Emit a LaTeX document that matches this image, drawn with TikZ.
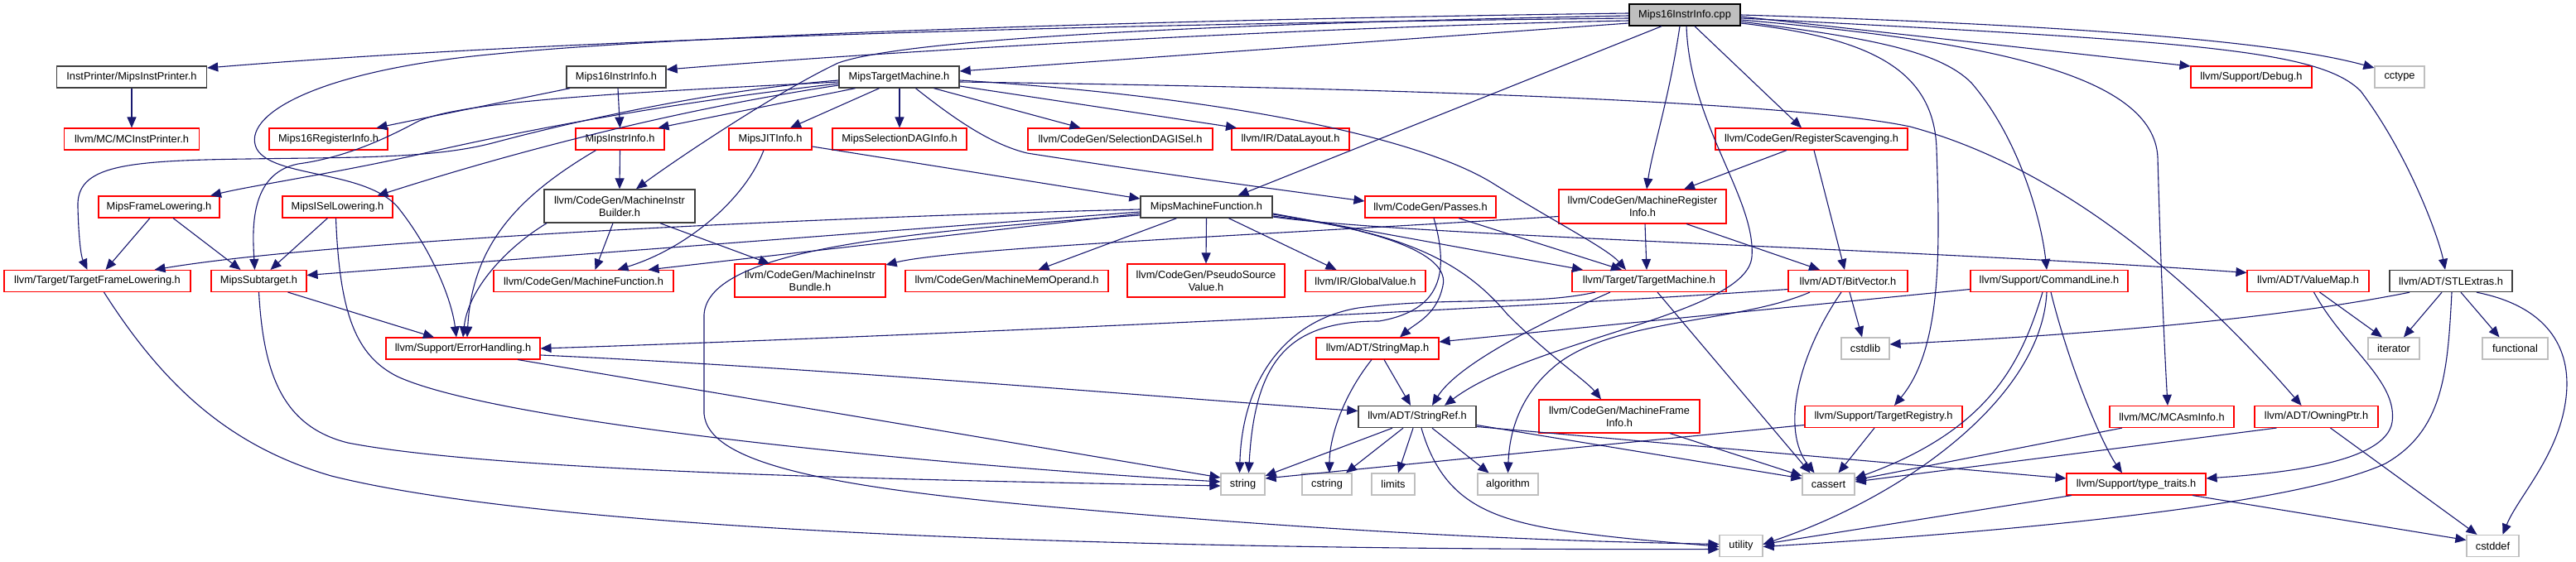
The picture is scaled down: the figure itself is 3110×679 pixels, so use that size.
\documentclass[tikz,border=0pt]{standalone}
\usepackage{fontspec}
\newfontfamily\nf{Liberation Sans}
\usetikzlibrary{arrows.meta}
\definecolor{edgec}{HTML}{191970}
\definecolor{redc}{HTML}{FF0000}
\definecolor{grayc}{HTML}{BFBFBF}
\definecolor{blkc}{HTML}{404040}
\begin{document}
\begin{tikzpicture}[x=1pt,y=-1pt,
  base/.style={draw, rectangle, inner sep=0pt, minimum height=26pt, line width=1.4pt, align=center,
     font={\nf\fontsize{12.8pt}{15pt}\selectfont}},
  rn/.style={base, draw=redc, line width=1.1pt},
  bn/.style={base, draw=blkc},
  gn/.style={base, draw=grayc, line width=1.2pt},
  dep/.style={draw=edgec, line width=1.1pt, -{Triangle[length=13pt,width=11pt]}}]
\fill[white] (0,0) rectangle (3110,679);
\useasboundingbox (0,0) rectangle (3110,679);
% nodes
\node[bn, fill=grayc, draw=black, minimum width=134pt] (cpp) at (2034,18) {Mips16InstrInfo.cpp};
\node[bn, minimum width=181pt] (instp) at (159,93) {InstPrinter/MipsInstPrinter.h};
\node[bn, minimum width=120pt] (m16ii) at (744,93) {Mips16InstrInfo.h};
\node[bn, minimum width=145pt] (mtm) at (1085.5,93) {MipsTargetMachine.h};
\node[rn, minimum width=146pt] (debug) at (2718,93) {llvm/Support/Debug.h};
\node[gn, minimum width=60pt] (cctype) at (2897,93) {cctype};
\node[rn, minimum width=163pt] (mcip) at (159,168) {llvm/MC/MCInstPrinter.h};
\node[rn, minimum width=143pt] (m16ri) at (396.5,168) {Mips16RegisterInfo.h};
\node[rn, minimum width=107pt] (mii) at (748.5,168) {MipsInstrInfo.h};
\node[rn, minimum width=100pt] (jit) at (930,168) {MipsJITInfo.h};
\node[rn, minimum width=162pt] (sdaginfo) at (1086,168) {MipsSelectionDAGInfo.h};
\node[rn, minimum width=223pt] (sdagisel) at (1352.5,168) {llvm/CodeGen/SelectionDAGISel.h};
\node[rn, minimum width=142pt] (dl) at (1558,168) {llvm/IR/DataLayout.h};
\node[rn, minimum width=232pt] (rs) at (2187,168) {llvm/CodeGen/RegisterScavenging.h};
\node[rn, minimum width=146pt] (mfl) at (192,250) {MipsFrameLowering.h};
\node[rn, minimum width=133pt] (isel) at (407.5,250) {MipsISelLowering.h};
\node[bn, minimum width=182pt, minimum height=40pt] (mib) at (748,249) {llvm/CodeGen/MachineInstr\\Builder.h};
\node[bn, minimum width=159pt] (mmf) at (1456.5,250) {MipsMachineFunction.h};
\node[rn, minimum width=158pt] (passes) at (1727,250) {llvm/CodeGen/Passes.h};
\node[rn, minimum width=202pt, minimum height=41pt] (mri) at (1983,249.5) {llvm/CodeGen/MachineRegister\\Info.h};
\node[rn, minimum width=225pt] (tfl) at (117.5,339.5) {llvm/Target/TargetFrameLowering.h};
\node[rn, minimum width=115pt] (sub) at (312.5,339.5) {MipsSubtarget.h};
\node[rn, minimum width=217pt] (mf) at (704.5,339.5) {llvm/CodeGen/MachineFunction.h};
\node[rn, minimum width=182pt, minimum height=40pt] (mibundle) at (978,339) {llvm/CodeGen/MachineInstr\\Bundle.h};
\node[rn, minimum width=245pt] (mmo) at (1215.5,339.5) {llvm/CodeGen/MachineMemOperand.h};
\node[rn, minimum width=190pt, minimum height=40pt] (psv) at (1456,339) {llvm/CodeGen/PseudoSource\\Value.h};
\node[rn, minimum width=145pt] (gv) at (1648.5,339.5) {llvm/IR/GlobalValue.h};
\node[rn, minimum width=186pt] (tm) at (1991,339.5) {llvm/Target/TargetMachine.h};
\node[rn, minimum width=144pt] (bv) at (2231,339.5) {llvm/ADT/BitVector.h};
\node[rn, minimum width=190pt] (cl) at (2474,339.5) {llvm/Support/CommandLine.h};
\node[rn, minimum width=147pt] (vm) at (2786.5,339.5) {llvm/ADT/ValueMap.h};
\node[bn, minimum width=148pt] (stl) at (2959,339.5) {llvm/ADT/STLExtras.h};
\node[rn, minimum width=186pt] (eh) at (559,421) {llvm/Support/ErrorHandling.h};
\node[rn, minimum width=148pt] (smap) at (1663,421) {llvm/ADT/StringMap.h};
\node[gn, minimum width=58pt] (cstdlib) at (2252,421) {cstdlib};
\node[gn, minimum width=62pt] (iterator) at (2890,421) {iterator};
\node[gn, minimum width=79pt] (functional) at (3036.5,421) {functional};
\node[bn, minimum width=142pt] (sref) at (1711,503.5) {llvm/ADT/StringRef.h};
\node[rn, minimum width=194pt, minimum height=40pt] (mfi) at (1955,503) {llvm/CodeGen/MachineFrame\\Info.h};
\node[rn, minimum width=190pt] (treg) at (2274,503.5) {llvm/Support/TargetRegistry.h};
\node[rn, minimum width=150pt] (mcasm) at (2622,503.5) {llvm/MC/MCAsmInfo.h};
\node[rn, minimum width=149pt] (owning) at (2796.5,503.5) {llvm/ADT/OwningPtr.h};
\node[gn, minimum width=53pt] (string) at (1500.5,585) {string};
\node[gn, minimum width=60pt] (cstring) at (1602,585) {cstring};
\node[gn, minimum width=52pt] (limits) at (1682,585) {limits};
\node[gn, minimum width=73pt] (algorithm) at (1820.5,585) {algorithm};
\node[gn, minimum width=63pt] (cassert) at (2207.5,585) {cassert};
\node[rn, minimum width=168pt] (tt) at (2579,585) {llvm/Support/type\_traits.h};
\node[gn, minimum width=52pt] (utility) at (2102,659.5) {utility};
\node[gn, minimum width=63pt] (cstddef) at (3009.5,659.5) {cstddef};
% edges from cpp
\path[dep] ([yshift=-4pt]cpp.west) .. controls (1400,28) and (700,45) .. ([yshift=11pt]instp.east);
\path[dep] ([yshift=-7pt]cpp.west) .. controls (1600,32) and (1100,60) .. ([yshift=9pt]m16ii.east);
\path[dep] ([yshift=-10pt]cpp.west) -- ([yshift=7pt]mtm.east);
\path[dep] ([yshift=2pt]cpp.west) .. controls (1500,22) and (850,40) .. (600,65) .. controls (380,85) and (290,140) .. (310,180) .. controls (330,215) and (440,205) .. (480,250) .. controls (520,300) and (545,360) .. ([xshift=-8pt]eh.north);
\path[dep] ([yshift=-1pt]cpp.west) .. controls (1500,28) and (1100,45) .. (1012,76) .. controls (940,110) and (820,190) .. ([xshift=20pt]mib.north);
\path[dep] ([xshift=-28pt]cpp.south) -- ([xshift=38pt]mmf.north);
\path[dep] ([xshift=-6pt]cpp.south) .. controls (2015,120) and (1995,180) .. ([xshift=5pt]mri.north);
\path[dep] ([xshift=12pt]cpp.south) -- ([xshift=-12pt]rs.north);
\path[dep] ([xshift=2pt]cpp.south) .. controls (2040,150) and (2120,240) .. (2115,310) .. controls (2110,380) and (1850,410) .. ([xshift=33pt]sref.north);
\path[dep] ([yshift=-2pt]cpp.east) -- ([yshift=13pt]debug.west);
\path[dep] (cpp.east) .. controls (2500,30) and (2750,50) .. ([yshift=11pt]cctype.west);
\path[dep] ([yshift=-4pt]cpp.east) .. controls (2650,50) and (2800,60) .. (2850,110) .. controls (2910,190) and (2945,290) .. ([xshift=-7pt]stl.north);
\path[dep] ([yshift=-8pt]cpp.east) .. controls (2250,45) and (2340,60) .. (2380,100) .. controls (2440,170) and (2465,270) .. ([xshift=-3pt]cl.north);
\path[dep] ([yshift=-6pt]cpp.east) .. controls (2400,50) and (2600,90) .. (2605,190) .. controls (2608,300) and (2612,400) .. ([xshift=-5pt]mcasm.north);
\path[dep] ([yshift=-10pt]cpp.east) .. controls (2250,45) and (2335,80) .. (2338,180) .. controls (2342,300) and (2345,420) .. ([xshift=13pt]treg.north);
% MipsTargetMachine
\path[dep] ([xshift=-53pt]mtm.south) -- ([xshift=46pt]mii.north);
\path[dep] ([xshift=-24pt]mtm.south) -- ([xshift=24pt]jit.north);
\path[dep] ([xshift=0.5pt]mtm.south) -- (sdaginfo.north);
\path[dep] ([xshift=42pt]mtm.south) -- ([xshift=-48pt]sdagisel.north);
\path[dep] ([yshift=-11pt]mtm.east) -- ([xshift=-65pt]dl.north);
\path[dep] ([xshift=20pt]mtm.south) .. controls (1160,150) and (1200,175) .. (1240,185) .. controls (1400,210) and (1550,230) .. ([yshift=7pt]passes.west);
\path[dep] ([yshift=-4pt]mtm.east) .. controls (1450,115) and (1700,160) .. (1800,220) .. controls (1880,270) and (1940,300) .. ([xshift=-28pt]tm.north);
\path[dep] ([yshift=-6pt]mtm.east) .. controls (1600,105) and (2150,120) .. (2306,153) .. controls (2480,200) and (2640,330) .. ([xshift=-18pt]owning.north);
\path[dep] ([yshift=-4pt]mtm.west) .. controls (850,110) and (680,150) .. (594,173) .. controls (520,192) and (420,190) .. (300,192) .. controls (150,194) and (92,200) .. (94,250) .. controls (95,290) and (98,310) .. ([xshift=-12pt]tfl.north);
\path[dep] ([yshift=-6pt]mtm.west) .. controls (800,110) and (560,120) .. (504,147) .. controls (470,165) and (420,190) .. (360,198) .. controls (300,210) and (305,280) .. ([xshift=-5pt]sub.north);
\path[dep] ([yshift=-8pt]mtm.west) .. controls (800,125) and (620,160) .. (504,187) .. controls (400,210) and (300,225) .. ([xshift=62pt]mfl.north);
\path[dep] ([yshift=-10pt]mtm.west) .. controls (800,135) and (600,190) .. ([xshift=48pt]isel.north);
% MipsMachineFunction
\path[dep] ([yshift=-3pt]mmf.west) .. controls (1000,262) and (400,290) .. ([xshift=69pt]tfl.north);
\path[dep] ([yshift=-6pt]mmf.west) -- ([yshift=7pt]sub.east);
\path[dep] ([yshift=-8pt]mmf.west) -- ([xshift=78pt]mf.north);
\path[dep] ([yshift=-10pt]mmf.west) .. controls (1100,280) and (855,300) .. (850,380) -- (850,500) .. controls (855,560) and (1000,590) .. (1300,615) .. controls (1700,650) and (1950,655) .. ([yshift=2pt]utility.west);
\path[dep] ([xshift=-36pt]mmf.south) -- ([xshift=38pt]mmo.north);
\path[dep] (mmf.south) -- (psv.north);
\path[dep] ([xshift=27pt]mmf.south) -- ([xshift=-35pt]gv.north);
\path[dep] ([yshift=-8pt]mmf.east) -- ([xshift=-80pt]tm.north);
\path[dep] ([yshift=-12pt]mmf.east) .. controls (1700,285) and (2300,300) .. ([yshift=10pt]vm.west);
\path[dep] ([yshift=-9pt]mmf.east) .. controls (1680,280) and (1750,310) .. (1742,345) .. controls (1735,380) and (1710,390) .. ([xshift=27pt]smap.north);
\path[dep] ([yshift=-11pt]mmf.east) .. controls (1700,280) and (1770,320) .. (1820,380) .. controls (1870,430) and (1915,460) .. ([xshift=-22pt]mfi.north);
% Passes, TargetMachine, MRI, RS
\path[dep] ([xshift=34pt]passes.south) -- ([xshift=-33pt]tm.north);
\path[dep] ([xshift=4pt]passes.south) .. controls (1750,330) and (1740,375) .. (1665,388) .. controls (1560,388) and (1515,430) .. ([xshift=7pt]string.north);
\path[dep] ([xshift=-65pt]tm.south) .. controls (1850,370) and (1750,358) .. (1640,372) .. controls (1560,385) and (1500,450) .. ([xshift=-4pt]string.north);
\path[dep] ([xshift=-47pt]tm.south) .. controls (1860,390) and (1760,440) .. ([xshift=18pt]sref.north);
\path[dep] ([xshift=10pt]tm.south) -- ([xshift=-22pt]cassert.north);
\path[dep] ([xshift=3pt]mri.south) -- ([xshift=-3pt]tm.north);
\path[dep] ([xshift=53pt]mri.south) -- ([xshift=-34pt]bv.north);
\path[dep] ([yshift=-12pt]mri.west) .. controls (1500,285) and (1150,300) .. ([yshift=19pt]mibundle.east);
\path[dep] ([xshift=-30pt]rs.south) -- ([xshift=50pt]mri.north);
\path[dep] ([xshift=3pt]rs.south) -- ([xshift=-4pt]bv.north);
% BitVector
\path[dep] ([yshift=-10pt]bv.west) .. controls (1800,375) and (1000,410) .. (eh.east);
\path[dep] ([xshift=-46pt]bv.south) .. controls (2100,390) and (1950,385) .. (1880,440) .. controls (1830,480) and (1822,530) .. (algorithm.north);
\path[dep] ([xshift=2pt]bv.south) -- ([xshift=-4pt]cstdlib.north);
\path[dep] ([xshift=-8pt]bv.south) .. controls (2170,430) and (2150,520) .. ([xshift=-17pt]cassert.north);
% CommandLine
\path[dep] ([yshift=-10pt]cl.west) -- ([yshift=8pt]smap.east);
\path[dep] ([xshift=-8pt]cl.south) .. controls (2440,440) and (2400,520) .. ([yshift=7pt]cassert.east);
\path[dep] ([xshift=-3pt]cl.south) .. controls (2465,480) and (2300,600) .. ([yshift=2pt]utility.east);
\path[dep] ([xshift=2pt]cl.south) .. controls (2500,450) and (2540,540) .. ([xshift=-17pt]tt.north);
% TargetRegistry
\path[dep] ([xshift=-11pt]treg.south) -- ([xshift=12pt]cassert.north);
\path[dep] ([yshift=-10pt]treg.west) -- ([yshift=7pt]string.east);
% StringRef, StringMap
\path[dep] ([xshift=-30pt]sref.south) -- ([yshift=10pt]string.east);
\path[dep] ([xshift=-17pt]sref.south) -- ([xshift=23pt]cstring.north);
\path[dep] ([xshift=-5pt]sref.south) -- ([xshift=6pt]limits.north);
\path[dep] ([xshift=18pt]sref.south) -- ([xshift=-23pt]algorithm.north);
\path[dep] ([xshift=5pt]sref.south) .. controls (1740,600) and (1790,625) .. (1880,640) .. controls (1960,652) and (2030,656) .. ([yshift=-1pt]utility.west);
\path[dep] ([yshift=-10pt]sref.east) -- ([yshift=7pt]cassert.west);
\path[dep] ([yshift=-12pt]sref.east) -- ([yshift=7pt]tt.west);
\path[dep] ([xshift=-7pt]smap.south) .. controls (1620,480) and (1605,530) .. ([xshift=3pt]cstring.north);
\path[dep] ([xshift=8pt]smap.south) -- ([xshift=-8pt]sref.north);
% ErrorHandling, MFI
\path[dep] ([yshift=-8pt]eh.east) .. controls (1000,445) and (1400,480) .. ([yshift=7pt]sref.west);
\path[dep] ([xshift=66pt]eh.south) -- ([yshift=8pt]string.west);
\path[dep] ([xshift=61pt]mfi.south) -- ([yshift=10pt]cassert.west);
% left part
\path[dep] ([xshift=-12pt]isel.south) -- ([xshift=14pt]sub.north);
\path[dep] ([xshift=-2pt]isel.south) .. controls (410,380) and (430,430) .. (480,455) .. controls (600,510) and (1100,560) .. ([yshift=3pt]string.west);
\path[dep] ([xshift=-11pt]mfl.south) -- ([xshift=10pt]tfl.north);
\path[dep] ([xshift=17pt]mfl.south) -- ([xshift=-22pt]sub.north);
\path[dep] ([xshift=35pt]sub.south) -- ([xshift=-35pt]eh.north);
\path[dep] (sub.south) .. controls (318,450) and (340,515) .. (420,535) .. controls (600,570) and (1100,580) .. ([yshift=-2pt]string.west);
\path[dep] ([xshift=8pt]tfl.south) .. controls (200,470) and (280,540) .. (400,575) .. controls (700,650) and (1500,665) .. ([yshift=-4pt]utility.west);
\path[dep] (instp.south) -- (mcip.north);
\path[dep] ([xshift=-56pt]m16ii.south) -- ([xshift=58pt]m16ri.north);
\path[dep] ([xshift=2pt]m16ii.south) -- (mii.north);
\path[dep] (mii.south) -- (mib.north);
\path[dep] ([xshift=-29pt]mii.south) .. controls (620,240) and (570,300) .. ([xshift=5pt]eh.north);
\path[dep] ([xshift=-88pt]mib.south) .. controls (610,300) and (565,350) .. (eh.north);
\path[dep] ([xshift=-8pt]mib.south) -- ([xshift=14pt]mf.north);
\path[dep] ([xshift=49pt]mib.south) -- ([xshift=-49pt]mibundle.north);
\path[dep] ([xshift=-8pt]jit.south) .. controls (900,240) and (830,300) .. ([xshift=41pt]mf.north);
\path[dep] ([yshift=-9pt]jit.east) -- ([yshift=10pt]mmf.west);
% right part
\path[dep] ([xshift=-50pt]stl.south) .. controls (2700,395) and (2400,410) .. ([yshift=5pt]cstdlib.east);
\path[dep] ([xshift=-11pt]stl.south) -- ([xshift=12pt]iterator.north);
\path[dep] ([xshift=12pt]stl.south) -- ([xshift=-19pt]functional.north);
\path[dep] ([xshift=31pt]stl.south) .. controls (3075,370) and (3105,420) .. (3098,480) .. controls (3090,550) and (3040,600) .. ([xshift=12pt]cstddef.north);
\path[dep] ([xshift=1pt]stl.south) .. controls (2955,450) and (2950,520) .. (2880,560) .. controls (2750,620) and (2300,650) .. ([yshift=-1pt]utility.east);
\path[dep] ([xshift=14pt]vm.south) -- ([xshift=-14pt]iterator.north);
\path[dep] ([xshift=7pt]vm.south) .. controls (2830,420) and (2895,460) .. (2888,510) .. controls (2880,560) and (2750,572) .. ([yshift=7pt]tt.east);
\path[dep] ([xshift=-48pt]owning.south) -- ([yshift=3pt]cassert.east);
\path[dep] ([xshift=17pt]owning.south) -- ([xshift=-19pt]cstddef.north);
\path[dep] ([xshift=-60pt]mcasm.south) -- ([yshift=5pt]cassert.east);
\path[dep] ([xshift=-78pt]tt.south) -- ([yshift=2pt]utility.east);
\path[dep] ([xshift=68pt]tt.south) -- ([yshift=7pt]cstddef.west);
\end{tikzpicture}
\end{document}
